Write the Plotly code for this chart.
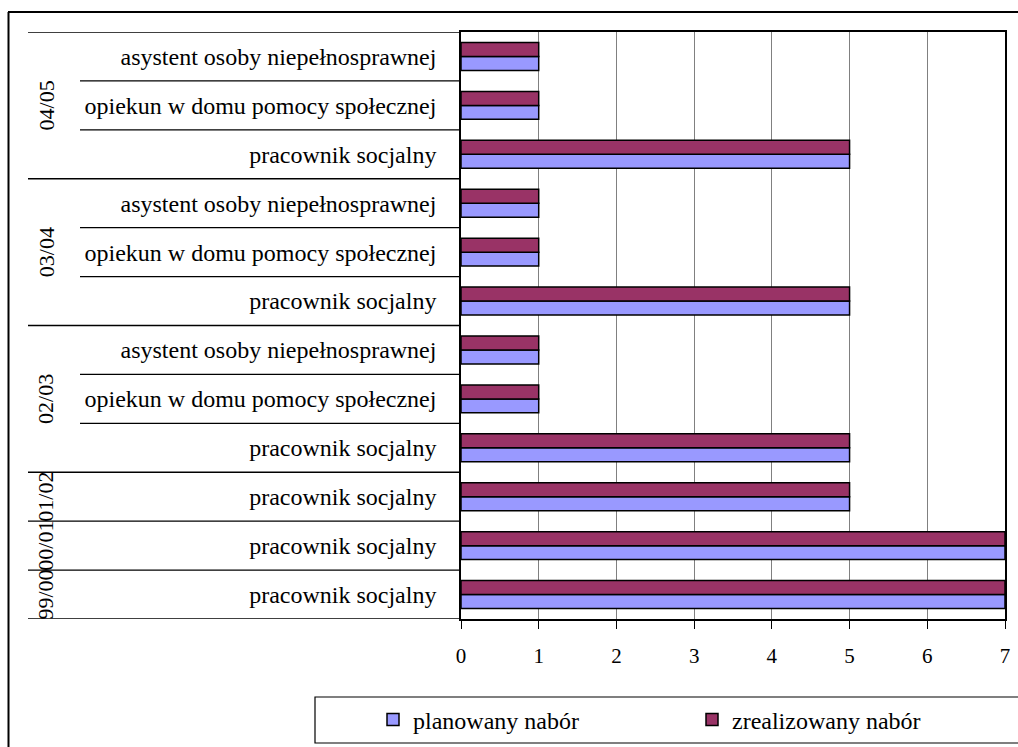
import plotly.graph_objects as go

# Categories listed bottom-to-top (first row sits at the bottom of the chart)
years = ["99/00", "00/01", "01/02",
         "02/03", "02/03", "02/03",
         "03/04", "03/04", "03/04",
         "04/05", "04/05", "04/05"]
jobs = ["pracownik socjalny", "pracownik socjalny", "pracownik socjalny",
        "pracownik socjalny", "opiekun w domu pomocy społecznej", "asystent osoby niepełnosprawnej",
        "pracownik socjalny", "opiekun w domu pomocy społecznej", "asystent osoby niepełnosprawnej",
        "pracownik socjalny", "opiekun w domu pomocy społecznej", "asystent osoby niepełnosprawnej"]
planowany = [7, 7, 5, 5, 1, 1, 5, 1, 1, 5, 1, 1]
zrealizowany = [7, 7, 5, 5, 1, 1, 5, 1, 1, 5, 1, 1]
x_ticks = [0, 1, 2, 3, 4, 5, 6, 7]

FONT = "Liberation Serif, Times New Roman, serif"
W, H = 1018, 747
ML, MR, MT, MB = 461, 13, 32, 128
PW, PH = W - ML - MR, H - MT - MB


def px_x(p):
    return (p - ML) / PW


def px_y(p):
    return (H - MB - p) / PH


rows = list(range(len(jobs)))

fig = go.Figure()
fig.add_trace(go.Bar(
    y=rows, x=planowany, orientation="h", name="planowany nabór",
    marker=dict(color="#9999FF", line=dict(color="#000000", width=1.5)),
))
fig.add_trace(go.Bar(
    y=rows, x=zrealizowany, orientation="h", name="zrealizowany nabór",
    marker=dict(color="#993366", line=dict(color="#000000", width=1.5)),
))

frame = dict(color="#000000", width=2)
shapes = []
# outer chart frame: top and left edges (right and bottom edges fall outside the page)
shapes.append(dict(type="line", xref="paper", yref="paper",
                   x0=px_x(8), x1=px_x(1030), y0=px_y(12), y1=px_y(12),
                   line=frame))
shapes.append(dict(type="line", xref="paper", yref="paper",
                   x0=px_x(8.5), x1=px_x(8.5), y0=px_y(12), y1=px_y(760),
                   line=frame))
# legend frame
shapes.append(dict(type="rect", xref="paper", yref="paper",
                   x0=px_x(315), x1=px_x(1040), y0=px_y(697), y1=px_y(743),
                   line=dict(color="#000000", width=1.2), layer="below"))

# category separator lines: long at group boundaries, short inside a group
n = len(rows)
for k in range(n + 1):
    if k == 0 or k == n or years[k] != years[k - 1]:
        x_start = px_x(28)
    else:
        x_start = px_x(80)
    shapes.append(dict(type="line", xref="paper", yref="y",
                       x0=x_start, x1=0, y0=k - 0.5, y1=k - 0.5,
                       line=dict(color="#000000", width=1.3)))

annotations = []
# rotated group labels
groups = []
for i, yr in enumerate(years):
    if not groups or groups[-1][0] != yr:
        groups.append([yr, [i]])
    else:
        groups[-1][1].append(i)
for yr, idx in groups:
    annotations.append(dict(
        xref="paper", yref="y", x=px_x(46), y=sum(idx) / len(idx),
        text=yr, textangle=-90, showarrow=False,
        xanchor="center", yanchor="middle",
        font=dict(family=FONT, size=22, color="#000000"),
    ))

fig.update_layout(
    width=W, height=H,
    margin=dict(l=ML, r=MR, t=MT, b=MB, autoexpand=False),
    paper_bgcolor="#FFFFFF", plot_bgcolor="#FFFFFF",
    barmode="group", bargap=0.43, bargroupgap=0,
    font=dict(family=FONT, size=22, color="#000000"),
    showlegend=True,
    legend=dict(
        orientation="h", x=px_x(373), y=px_y(720),
        xanchor="left", yanchor="middle",
        entrywidth=274, entrywidthmode="pixels",
        bgcolor="rgba(0,0,0,0)", borderwidth=0,
        font=dict(family=FONT, size=24, color="#000000"),
        traceorder="normal",
    ),
    shapes=shapes,
    annotations=annotations,
)

fig.update_xaxes(
    range=[0, 7], tickvals=x_ticks, ticktext=[str(v) for v in x_ticks],
    showgrid=True, gridcolor="#808080", gridwidth=1,
    ticks="outside", ticklen=8, tickcolor="#000000", tickwidth=1,
    showline=True, linecolor="#000000", linewidth=1.5, mirror=True,
    zeroline=False, ticklabelstandoff=9,
    tickfont=dict(family=FONT, size=21, color="#000000"),
)
fig.update_yaxes(
    range=[-0.5, n - 0.5], tickvals=rows, ticktext=jobs,
    showgrid=False, ticks="", showline=True, linecolor="#000000",
    linewidth=1.5, mirror=True, zeroline=False,
    ticklabelstandoff=18,
    tickfont=dict(family=FONT, size=24, color="#000000"),
)

fig.write_html("out.html")
